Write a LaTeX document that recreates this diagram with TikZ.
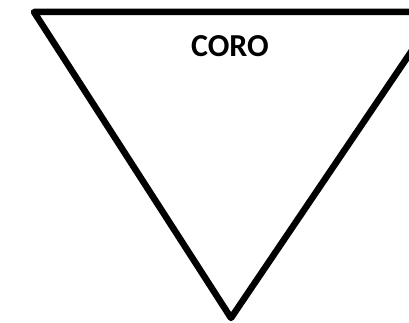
\documentclass[tikz,border=0pt]{standalone}
\usepackage{fontspec}
\setmainfont{Carlito}
\begin{document}
\begin{tikzpicture}[x=1pt,y=1pt,line width=6.5pt,line join=round]
\useasboundingbox (0,0) rectangle (409,322);
\clip (0,0) rectangle (409,322);
\coordinate (tl) at (34,310);
\coordinate (tr) at (438,310);
\coordinate (bt) at (231,4);
\draw (tl)--(tr)--(bt)--cycle;
\node (coro) at (230,276) {\fontsize{32}{38}\selectfont\bfseries CORO};
\end{tikzpicture}
\end{document}
